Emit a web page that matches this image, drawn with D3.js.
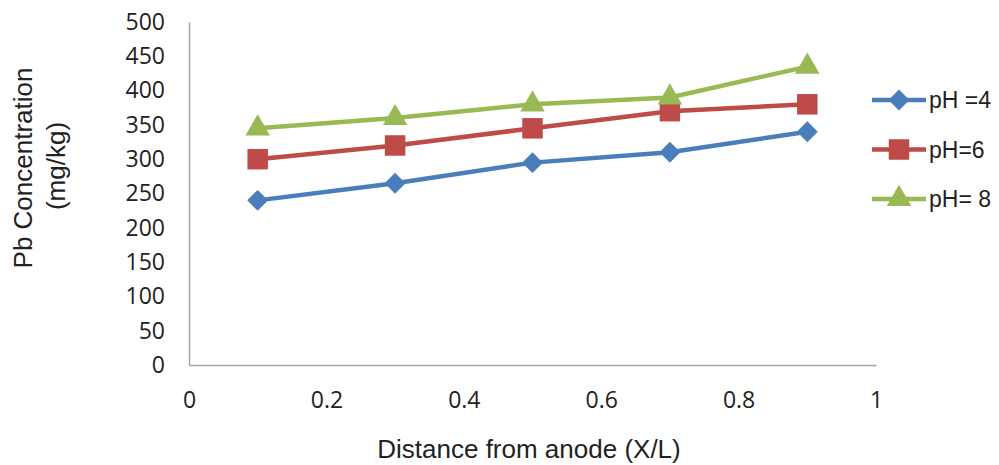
<!DOCTYPE html>
<html>
<head>
<meta charset="utf-8">
<script src="https://cdn.jsdelivr.net/npm/d3@7"></script>
<style>
  body { margin: 0; background: #fff; }
  text { font-family: "Open Sans", "Noto Sans", sans-serif; fill: #222; }
  .title { font-family: "Liberation Sans", Arial, sans-serif; }
</style>
</head>
<body>
<div id="graph"></div>
<script>
// distances (X/L) and Pb concentration per pH
const distance = [0.1, 0.3, 0.5, 0.7, 0.9]
const ph4 = [240, 265, 295, 310, 340]
const ph6 = [300, 320, 345, 370, 380]
const ph8 = [345, 360, 380, 390, 435]
const seriesNames = ["pH =4", "pH=6", "pH= 8"]
const xTicks = [0, 0.2, 0.4, 0.6, 0.8, 1]
const yTicks = [0, 50, 100, 150, 200, 250, 300, 350, 400, 450, 500]

const series = [
  { name: seriesNames[0], values: ph4, color: "#4a7ebb", symbol: d3.symbolDiamond2, size: 280 },
  { name: seriesNames[1], values: ph6, color: "#be4b48", symbol: d3.symbolSquare, size: 420 },
  { name: seriesNames[2], values: ph8, color: "#98b954", symbol: d3.symbolTriangle, size: 260 }
]

let width = 999, height = 465
let margin = { top: 22, left: 189, right: 123, bottom: 100 }

let svg = d3.select("#graph")
  .append("svg")
  .attr("width", width)
  .attr("height", height)

let x = d3.scaleLinear().domain([0, 1]).range([margin.left, width - margin.right])
let y = d3.scaleLinear().domain([0, 500]).range([height - margin.bottom, margin.top])

// axes
svg.append("g")
  .attr("transform", "translate(0," + y(0) + ")")
  .call(d3.axisBottom(x).tickValues(xTicks).tickSize(0).tickPadding(27).tickFormat(d => d))
svg.append("g")
  .attr("transform", "translate(" + x(0) + ",0)")
  .call(d3.axisLeft(y).tickValues(yTicks).tickSize(0).tickPadding(24))

svg.selectAll(".domain").attr("stroke", "#a6a6a6").attr("stroke-width", 1.5)
svg.selectAll(".tick text").style("font-size", "23px").attr("fill", "#222")

// axis titles
svg.append("text")
  .attr("class", "title")
  .attr("x", 529)
  .attr("y", 449)
  .attr("dy", "0.35em")
  .attr("text-anchor", "middle")
  .style("font-size", "26px")
  .text("Distance from anode (X/L)")

svg.append("text")
  .attr("class", "title")
  .attr("transform", "translate(23,168) rotate(-90)")
  .attr("dy", "0.35em")
  .attr("text-anchor", "middle")
  .style("font-size", "26px")
  .text("Pb Concentration")
svg.append("text")
  .attr("class", "title")
  .attr("transform", "translate(56,166) rotate(-90)")
  .attr("dy", "0.35em")
  .attr("text-anchor", "middle")
  .style("font-size", "26px")
  .text("(mg/kg)")

// lines + markers
let line = d3.line()
  .x((d, i) => x(distance[i]))
  .y(d => y(d))

series.forEach(s => {
  svg.append("path")
    .datum(s.values)
    .attr("fill", "none")
    .attr("stroke", s.color)
    .attr("stroke-width", 4.5)
    .attr("d", line)
  svg.selectAll(null)
    .data(s.values)
    .enter()
    .append("path")
    .attr("d", d3.symbol().type(s.symbol).size(s.size))
    .attr("transform", (d, i) => "translate(" + x(distance[i]) + "," + y(d) + ")")
    .attr("fill", s.color)
})

// legend
let legend = svg.append("g")
series.forEach((s, i) => {
  let ly = 100 + i * 49.5
  legend.append("line")
    .attr("x1", 872).attr("x2", 926)
    .attr("y1", ly).attr("y2", ly)
    .attr("stroke", s.color)
    .attr("stroke-width", 4.5)
  legend.append("path")
    .attr("d", d3.symbol().type(s.symbol).size(s.size))
    .attr("transform", "translate(899," + ly + ")")
    .attr("fill", s.color)
  legend.append("text")
    .attr("class", "title")
    .attr("x", 929)
    .attr("y", ly)
    .attr("dy", "0.35em")
    .style("font-size", "23px")
    .text(s.name)
})
</script>
</body>
</html>
